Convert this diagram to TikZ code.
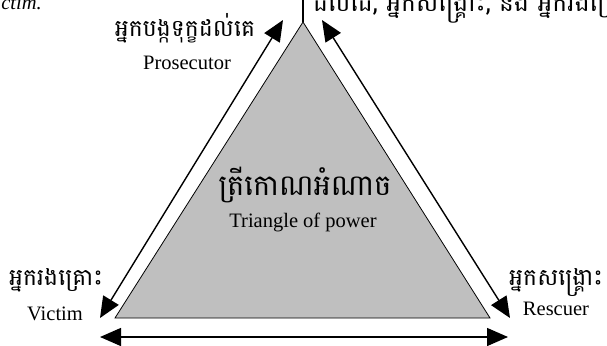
\documentclass[tikz,border=0pt]{standalone}
\usepackage{fontspec}
\setmainfont{Liberation Serif}
\newfontfamily\khmer[Script=Khmer]{Battambang}
\usetikzlibrary{arrows.meta}
\tikzset{
  en/.style={font=\fontsize{20.5}{24}\selectfont, inner sep=0pt, anchor=base},
  kh/.style={font=\khmer\fontsize{23.5}{28}\selectfont, inner sep=0pt, anchor=base},
  khbig/.style={font=\khmer\fontsize{29}{34}\selectfont, inner sep=0pt, anchor=base},
  khtop/.style={font=\khmer\fontsize{25}{30}\selectfont, inner sep=0pt, anchor=base west},
  dbl/.style={line width=1.4pt, {Triangle[length=21pt,width=18pt]}-{Triangle[length=21pt,width=18pt]}},
}
\begin{document}
\begin{tikzpicture}[x=1pt,y=-1pt]
\useasboundingbox (0,0) rectangle (607,345);
\clip (0,0) rectangle (607,345);
% triangle vertices
\coordinate (A) at (303,22);
\coordinate (B) at (115,318);
\coordinate (C) at (490,318);
\coordinate (top) at (303,0);
\fill[black!25] (A) -- (B) -- (C) -- cycle;
\draw[line width=0.8pt] (A) -- (B) -- (C) -- cycle;
\draw[line width=1.4pt] (top) -- (A);
% arrow end points
\coordinate (l1) at (283,20);
\coordinate (l2) at (100,318);
\coordinate (r1) at (322,20);
\coordinate (r2) at (510,318);
\coordinate (b1) at (100,337);
\coordinate (b2) at (508,337);
\draw[dbl] (l1) -- (l2);
\draw[dbl] (r1) -- (r2);
\draw[dbl] (b1) -- (b2);
% labels
\node[kh] (pk) at (185,37) {អ្នកបង្កទុក្ខដល់គេ};
\node[en] (pe) at (187,70) {Prosecutor};
\node[khbig] (ck) at (305,195) {ត្រីកោណអំណាច};
\node[en] (ce) at (303,227) {Triangle of power};
\node[kh] (vk) at (56,285) {អ្នករងគ្រោះ};
\node[en] (ve) at (55,320) {Victim};
\node[kh] (rk) at (556,285) {អ្នកសង្គ្រោះ};
\node[en] (re) at (556,315) {Rescuer};
% cut texts at the top
\node[en, anchor=base east, font=\itshape\fontsize{20.5}{24}\selectfont] (ct) at (42,10) {Victim.};
\node[khtop] (tt) at (313,12) {ដបេដេ, អ្នកសង្គ្រោះ, និង អ្នករងគ្រោះ};
\end{tikzpicture}
\end{document}
